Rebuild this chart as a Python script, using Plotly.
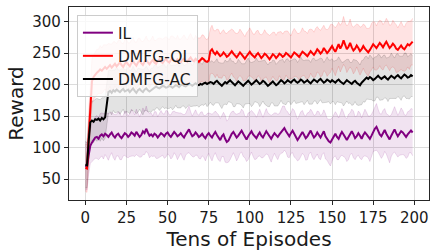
import plotly.graph_objects as go

episodes = list(range(200))

il_mean = [
    71,70,88,103,108,112,116,117,114,119,
    121,118,122,120,117,121,124,119,116,120,
    122,118,115,119,123,121,117,120,124,122,
    119,125,121,117,120,126,123,130,124,119,
    121,118,122,120,116,119,123,121,118,122,
    124,120,117,121,125,122,118,120,123,119,
    116,121,126,129,123,118,120,124,121,117,
    119,122,118,115,120,123,119,116,121,125,
    120,116,112,118,121,114,109,111,117,122,
    125,120,116,119,123,127,122,117,113,118,
    122,126,121,117,115,120,124,119,116,121,
    126,122,118,114,119,123,120,117,121,125,
    129,131,126,121,118,123,127,122,117,112,
    116,121,125,120,115,118,123,127,121,116,
    119,124,120,116,121,126,118,113,110,108,
    113,118,122,117,114,120,125,121,116,112,
    117,122,126,121,115,118,123,119,114,120,
    124,121,117,114,119,126,130,133,127,121,
    118,123,128,122,117,113,119,125,129,123,
    118,122,126,124,120,117,121,125,127,124,
]
il_std = [
    38,37,30,28,30,32,33,34,33,35,
    34,36,33,35,37,34,32,35,36,33,
    35,37,34,32,35,36,33,34,37,35,
    33,36,34,32,35,37,34,36,33,35,
    34,32,35,37,33,34,36,33,35,37,
    34,32,35,36,33,34,37,35,32,34,
    36,33,35,37,34,32,35,36,33,34,
    37,35,33,36,34,32,35,37,34,33,
    35,36,34,32,35,37,33,34,36,35,
    33,34,37,35,32,34,36,33,35,37,
    34,33,35,36,33,34,37,35,32,34,
    36,33,35,37,34,32,35,36,33,34,
    37,35,33,36,34,32,35,37,34,33,
    35,36,34,32,35,37,33,34,36,35,
    33,34,37,35,32,34,36,33,35,37,
    34,33,35,36,33,34,37,35,32,34,
    36,33,35,37,34,32,35,36,33,34,
    37,35,33,36,34,32,35,37,34,33,
    35,36,34,32,35,37,33,34,36,35,
    33,34,37,35,32,34,36,33,35,37,
]

ql_mean = [
    68,67,115,160,205,212,216,219,221,224,
    222,226,228,225,229,231,227,230,233,229,
    232,235,231,228,233,236,232,229,234,237,
    233,230,235,238,234,231,236,239,235,232,
    236,239,235,233,237,240,236,234,238,241,
    237,235,239,242,238,236,240,237,235,239,
    241,238,236,240,243,239,237,241,238,236,
    239,242,240,237,236,238,253,256,251,248,
    252,249,245,247,251,248,244,246,250,253,
    249,246,243,247,251,248,244,241,245,249,
    252,248,245,243,247,250,246,242,245,249,
    247,243,240,244,248,246,242,245,249,247,
    244,246,250,248,245,243,247,251,249,246,
    244,248,252,250,247,245,249,253,250,247,
    251,256,253,249,252,258,254,250,253,257,
    261,256,252,258,264,257,262,270,263,256,
    260,266,259,254,257,262,258,253,256,261,
    257,253,251,255,260,264,261,258,262,266,
    263,259,264,268,263,258,261,265,262,257,
    255,259,262,258,256,260,264,262,266,268,
]
ql_std = [
    37,38,40,38,36,35,36,37,35,38,
    36,37,35,38,36,34,37,38,35,36,
    38,36,35,37,38,36,34,37,36,38,
    35,37,38,36,35,37,36,38,35,37,
    36,38,35,37,36,34,37,38,36,35,
    37,36,38,35,37,36,38,35,37,36,
    38,36,35,37,38,36,34,37,36,38,
    35,37,38,36,35,37,36,38,35,37,
    36,38,35,37,36,34,37,38,36,35,
    37,36,38,35,37,36,38,35,37,36,
    38,36,35,37,38,36,34,37,36,38,
    35,37,38,36,35,37,36,38,35,37,
    36,38,35,37,36,34,37,38,36,35,
    37,36,38,35,37,36,38,35,37,36,
    38,36,35,37,38,36,34,37,36,38,
    35,37,38,36,35,37,36,38,35,37,
    36,38,35,37,36,34,37,38,36,35,
    37,36,38,35,37,36,38,35,37,36,
    38,36,35,37,38,36,34,37,36,38,
    35,37,38,36,35,37,36,38,35,37,
]

ac_mean = [
    73,72,110,140,143,141,145,144,146,143,
    147,145,148,166,188,190,187,191,189,192,
    190,188,191,193,189,190,192,188,191,194,
    190,187,191,193,190,188,192,194,191,189,
    191,193,195,197,195,194,196,198,197,195,
    196,198,197,195,197,199,198,196,199,200,
    198,197,199,201,200,198,200,202,200,199,
    201,200,202,203,201,202,204,203,201,204,
    206,203,200,198,201,204,202,205,207,204,
    201,199,202,205,203,200,198,201,204,206,
    203,200,202,205,207,204,201,203,206,204,
    201,198,200,203,205,202,199,201,204,207,
    205,202,204,207,205,203,206,208,205,203,
    205,208,206,203,205,207,204,202,205,208,
    206,204,207,209,206,203,205,208,206,204,
    207,205,203,206,208,205,203,201,204,207,
    205,203,201,204,206,203,201,199,203,206,
    208,211,209,212,210,207,209,212,214,211,
    209,211,213,210,208,211,214,212,210,213,
    215,212,210,213,216,214,211,212,215,213,
]
ac_std = [
    37,36,32,30,31,33,32,34,31,33,
    32,34,33,35,34,33,35,32,34,36,
    33,35,34,32,35,33,36,34,32,35,
    34,33,35,32,34,36,33,35,34,32,
    35,33,36,34,32,35,34,33,35,32,
    34,36,33,35,34,32,35,33,36,34,
    32,35,34,33,35,32,34,36,33,35,
    34,32,35,33,36,34,32,35,34,33,
    35,32,34,36,33,35,34,32,35,33,
    36,34,32,35,34,33,35,32,34,36,
    33,35,34,32,35,33,36,34,32,35,
    34,33,35,32,34,36,33,35,34,32,
    35,33,36,34,32,35,34,33,35,32,
    34,36,33,35,34,32,35,33,36,34,
    32,35,34,33,35,32,34,36,33,35,
    34,32,35,33,36,34,32,35,34,33,
    35,32,34,36,33,35,34,32,35,33,
    36,34,32,35,34,33,35,32,34,36,
    33,35,34,32,35,33,36,34,32,35,
    34,33,35,32,34,36,33,35,34,32,
]

x_ticks = [0, 25, 50, 75, 100, 125, 150, 175, 200]
y_ticks = [50, 100, 150, 200, 250, 300]

series = [
    ("IL", il_mean, il_std, (128, 0, 128)),
    ("DMFG-QL", ql_mean, ql_std, (255, 0, 0)),
    ("DMFG-AC", ac_mean, ac_std, (0, 0, 0)),
]

fig = go.Figure()

for name, mean, std, (r, g, b) in series:
    lower = [m - s for m, s in zip(mean, std)]
    upper = [m + s for m, s in zip(mean, std)]
    edge = f"rgba({r},{g},{b},0.13)"
    fill = f"rgba({r},{g},{b},0.11)"
    fig.add_trace(go.Scatter(x=episodes, y=lower, mode="lines",
                             line=dict(color=edge, width=1),
                             showlegend=False, hoverinfo="skip"))
    fig.add_trace(go.Scatter(x=episodes, y=upper, mode="lines",
                             line=dict(color=edge, width=1),
                             fill="tonexty", fillcolor=fill,
                             showlegend=False, hoverinfo="skip"))

for name, mean, std, (r, g, b) in series:
    fig.add_trace(go.Scatter(x=episodes, y=mean, mode="lines", name=name,
                             line=dict(color=f"rgb({r},{g},{b})", width=2)))

font_family = "DejaVu Sans"
axis_common = dict(
    showgrid=True, gridcolor="#dcdcdc", gridwidth=1,
    showline=True, linecolor="#262626", linewidth=1.2, mirror=True,
    ticks="outside", ticklen=4, tickcolor="#262626", tickwidth=1,
    zeroline=False, automargin=False,
    tickfont=dict(family=font_family, size=15, color="#1a1a1a"),
)

fig.update_layout(
    width=438, height=252,
    margin=dict(l=69, r=9, t=7, b=52),
    paper_bgcolor="white", plot_bgcolor="white",
    font=dict(family=font_family, color="#1a1a1a"),
    xaxis=dict(range=[-9.95, 208.95], tickvals=x_ticks,
               title=dict(text="Tens of Episodes",
                          font=dict(family=font_family, size=20), standoff=0),
               **axis_common),
    yaxis=dict(range=[17, 323], tickvals=y_ticks,
               title=dict(text="Reward",
                          font=dict(family=font_family, size=20), standoff=3),
               **axis_common),
    legend=dict(x=0.022, y=0.958, xanchor="left", yanchor="top",
                traceorder="normal",
                bgcolor="rgba(255,255,255,0.8)", bordercolor="#cccccc",
                borderwidth=1, font=dict(size=15.5, family=font_family),
                tracegroupgap=0, itemwidth=30),
    showlegend=True,
)

fig.write_html("out.html", config={"displayModeBar": False},
               post_script="document.body.style.margin='0';document.body.style.padding='0';")
